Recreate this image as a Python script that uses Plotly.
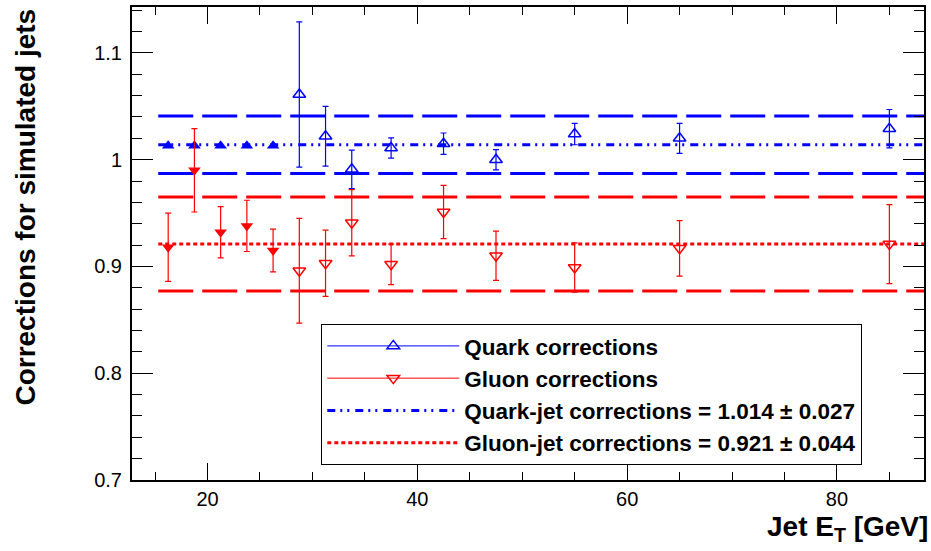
import plotly.graph_objects as go

# ---------------- data ----------------
low_et = [16.25, 18.75, 21.25, 23.75, 26.25]
quark_low = [1.013, 1.013, 1.013, 1.013, 1.013]
gluon_low = [0.918, 0.990, 0.932, 0.938, 0.915]
gluon_low_err = [0.032, 0.039, 0.024, 0.024, 0.020]

high_et = [28.75, 31.25, 33.75, 37.5, 42.5, 47.5, 55, 65, 85]
quark_high = [1.061, 1.022, 0.991, 1.011, 1.015, 1.000, 1.024, 1.020, 1.029]
quark_high_err = [0.068, 0.028, 0.018, 0.0095, 0.010, 0.0095, 0.010, 0.014, 0.018]
gluon_high = [0.896, 0.903, 0.941, 0.902, 0.951, 0.910, 0.899, 0.917, 0.921]
gluon_high_err = [0.049, 0.031, 0.031, 0.019, 0.025, 0.023, 0.023, 0.026, 0.037]

quark_mean, quark_sigma = 1.014, 0.027
gluon_mean, gluon_sigma = 0.921, 0.044
fit_et = [15.3, 100]

x_ticks = [20, 40, 60, 80]
y_ticks = [0.7, 0.8, 0.9, 1.0, 1.1]

BLUE = "#0000ff"
RED = "#ff0000"
FONT = "Liberation Sans, Arial, Helvetica, sans-serif"
MS = 11

fig = go.Figure()

# band lines (+/- sigma)
for m, s, c in [(quark_mean, quark_sigma, BLUE), (gluon_mean, gluon_sigma, RED)]:
    for v in (m + s, m - s):
        fig.add_trace(go.Scatter(
            x=fit_et, y=[v, v], mode="lines",
            line=dict(color=c, width=3, dash="35px,9px"),
            showlegend=False, hoverinfo="skip"))

# data points (no legend)
fig.add_trace(go.Scatter(
    x=low_et, y=quark_low, mode="markers",
    marker=dict(symbol="triangle-up", size=MS, color=BLUE),
    showlegend=False))
fig.add_trace(go.Scatter(
    x=low_et, y=gluon_low, mode="markers",
    marker=dict(symbol="triangle-down", size=MS, color=RED),
    error_y=dict(type="data", array=gluon_low_err, color=RED, thickness=1.2, width=3),
    showlegend=False))
fig.add_trace(go.Scatter(
    x=high_et, y=quark_high, mode="markers",
    marker=dict(symbol="triangle-up-open", size=MS, color=BLUE, line=dict(width=1.5)),
    error_y=dict(type="data", array=quark_high_err, color=BLUE, thickness=1.2, width=3),
    showlegend=False))
fig.add_trace(go.Scatter(
    x=high_et, y=gluon_high, mode="markers",
    marker=dict(symbol="triangle-down-open", size=MS, color=RED, line=dict(width=1.5)),
    error_y=dict(type="data", array=gluon_high_err, color=RED, thickness=1.2, width=3),
    showlegend=False))

# legend entries for the point series
fig.add_trace(go.Scatter(
    x=[None], y=[None], mode="lines+markers", name="Quark corrections",
    legendgroup="a", legendrank=1,
    line=dict(color=BLUE, width=1),
    marker=dict(symbol="triangle-up-open", size=MS, color=BLUE, line=dict(width=1.5))))
fig.add_trace(go.Scatter(
    x=[None], y=[None], mode="lines+markers", name="Gluon corrections",
    legendgroup="b", legendrank=2,
    line=dict(color=RED, width=1),
    marker=dict(symbol="triangle-down-open", size=MS, color=RED, line=dict(width=1.5))))

# mean lines
fig.add_trace(go.Scatter(
    x=fit_et, y=[quark_mean, quark_mean], mode="lines",
    name=f"Quark-jet corrections = {quark_mean:.3f} \u00b1 {quark_sigma:.3f}",
    legendgroup="c", legendrank=3,
    line=dict(color=BLUE, width=3, dash="8px,5px,2px,5px,2px,6px"), hoverinfo="skip"))
fig.add_trace(go.Scatter(
    x=fit_et, y=[gluon_mean, gluon_mean], mode="lines",
    name=f"Gluon-jet corrections = {gluon_mean:.3f} \u00b1 {gluon_sigma:.3f}",
    legendgroup="d", legendrank=4,
    line=dict(color=RED, width=3, dash="4px,3px"), hoverinfo="skip"))

axis_common = dict(
    showgrid=False, zeroline=False, showline=True, linewidth=2, linecolor="black",
    mirror="ticks", ticks="inside", tickcolor="black", tickwidth=1,
    tickfont=dict(family=FONT, size=20, color="black"),
)

fig.update_layout(
    width=931, height=551,
    margin=dict(l=132, r=5, t=7, b=71),
    paper_bgcolor="white", plot_bgcolor="white",
    font=dict(family=FONT, color="black"),
    xaxis=dict(range=[12.8, 88.3], tickvals=x_ticks, ticklen=17,
               minor=dict(dtick=5, tick0=0, ticks="inside", ticklen=8,
                          tickcolor="black", tickwidth=1, showgrid=False),
               **axis_common),
    yaxis=dict(range=[0.7, 1.143], tickvals=y_ticks, ticklen=21,
               minor=dict(dtick=0.02, tick0=0.7, ticks="inside", ticklen=10,
                          tickcolor="black", tickwidth=1, showgrid=False),
               ticklabelstandoff=4,
               **axis_common),
    showlegend=True,
    legend=dict(
        x=0.239, y=0.3303, xanchor="left", yanchor="top",
        bgcolor="white", bordercolor="black", borderwidth=1,
        font=dict(family=FONT, size=22.5, color="black", weight="bold"),
        itemwidth=132, traceorder="grouped", tracegroupgap=0,
        entrywidth=558, entrywidthmode="pixels",
    ),
    annotations=[
        dict(text="<b>Corrections for simulated jets</b>", textangle=-90,
             xref="paper", yref="paper", x=-0.135, y=1.0,
             xanchor="center", yanchor="top", showarrow=False,
             font=dict(family=FONT, size=28, color="black")),
        dict(text="<b>Jet E<sub>T</sub> [GeV]</b>",
             xref="paper", yref="paper", x=1.0076, y=-0.102,
             xanchor="right", yanchor="middle", showarrow=False,
             font=dict(family=FONT, size=28, color="black")),
    ],
)

fig.write_html("out.html", config={"displayModeBar": False},
               post_script="document.body.style.margin='0';")
